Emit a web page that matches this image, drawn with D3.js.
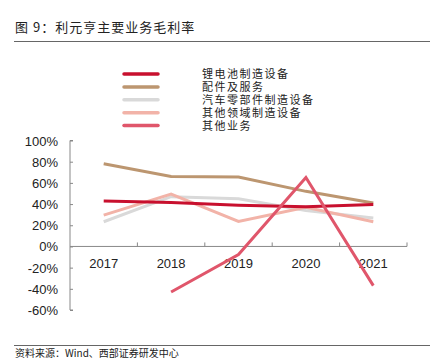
<!DOCTYPE html>
<html><head><meta charset="utf-8">
<script src="https://cdn.jsdelivr.net/npm/d3@7"></script>
<style>body{margin:0;background:#fff;}svg{display:block;}</style>
</head><body>
<script>
const years = ["2017","2018","2019","2020","2021"];
const seriesNames = ["锂电池制造设备","配件及服务","汽车零部件制造设备","其他领域制造设备","其他业务"];
const lithium = [42.8, 41.5, 38.8, 37.5, 39.7];
const parts = [78, 66, 65.5, 52, 41];
const autoParts = [23.3, 47, 45, 34, 26.8];
const otherField = [29.6, 49.4, 23.6, 36.9, 23.3];
const otherBiz = [null, -43, -7.6, 65, -37];
const yTicks = [100, 80, 60, 40, 20, 0, -20, -40, -60];
const colors = ["#C8102E", "#BC9670", "#D9D9D9", "#F2B3A8", "#E0566B"];

const W = 443, H = 360;
const svg = d3.select("body").append("svg").attr("width", W).attr("height", H);

svg.append("text").attr("x", 15).attr("y", 32).text("图 9：利元亨主要业务毛利率")
  .attr("font-family", "Noto Sans CJK SC").attr("font-size", 13).attr("fill", "#222").attr("letter-spacing", 1);
svg.append("line").attr("x1", 14).attr("x2", 430).attr("y1", 41.5).attr("y2", 41.5).attr("stroke", "#666").attr("stroke-width", 1.2);

const x = d3.scaleBand().domain(years).range([70, 407]);
const y = d3.scaleLinear().domain([-60, 100]).range([310, 140.5]);

// y axis
const yAxis = d3.axisRight(y).tickValues(yTicks).tickSize(3).tickFormat("");
const gy = svg.append("g").attr("transform", "translate(70,0)").call(yAxis);
gy.select(".domain").attr("stroke", "#888").attr("d", `M3,${y(100)}H0V${y(-60)}H3`);
gy.selectAll(".tick line").attr("stroke", "#888");
svg.append("g").selectAll("text").data(yTicks).join("text")
  .attr("x", 58).attr("y", d => y(d) + 5).attr("text-anchor", "end")
  .attr("font-family", "Liberation Sans, Arial").attr("font-size", 13).attr("fill", "#222")
  .text(d => d + "%");

// x axis at 0
const gx = svg.append("g").attr("transform", `translate(0,${y(0)})`);
gx.append("line").attr("x1", 70).attr("x2", 407).attr("stroke", "#888");
const bounds = years.map(d => x(d) + x.bandwidth());
gx.selectAll("line.tk").data(bounds).join("line").attr("class", "tk")
  .attr("x1", d => d).attr("x2", d => d).attr("y1", 0).attr("y2", -4).attr("stroke", "#888");
svg.append("g").selectAll("text").data(years).join("text")
  .attr("x", d => x(d) + x.bandwidth() / 2).attr("y", 268).attr("text-anchor", "middle")
  .attr("font-family", "Liberation Sans, Arial").attr("font-size", 13).attr("fill", "#222")
  .text(d => d);

const allSeries = [lithium, parts, autoParts, otherField, otherBiz];
const line = d3.line().defined(d => d[1] != null)
  .x(d => x(d[0]) + x.bandwidth() / 2).y(d => y(d[1]));
const order = [2, 1, 3, 0, 4];
order.forEach(i => {
  svg.append("path").datum(years.map((yr, j) => [yr, allSeries[i][j]]))
    .attr("d", line).attr("fill", "none").attr("stroke", colors[i]).attr("stroke-width", 3)
    .attr("stroke-linejoin", "miter");
});

// legend
const lg = svg.append("g");
seriesNames.forEach((n, i) => {
  const yy = 74 + i * 12.9;
  lg.append("line").attr("x1", 124).attr("x2", 158).attr("y1", yy).attr("y2", yy)
    .attr("stroke", colors[i]).attr("stroke-width", 3.5).attr("stroke-linecap", "round");
  lg.append("text").attr("x", 202).attr("y", yy + 4).text(n)
    .attr("font-family", "Noto Sans CJK SC").attr("font-size", 11).attr("fill", "#222").attr("letter-spacing", 1.5);
});

svg.append("line").attr("x1", 14).attr("x2", 430).attr("y1", 345.5).attr("y2", 345.5).attr("stroke", "#666").attr("stroke-width", 1);
svg.append("text").attr("x", 15).attr("y", 357).text("资料来源：Wind、西部证券研发中心")
  .attr("font-family", "Noto Sans CJK SC").attr("font-size", 10).attr("fill", "#222");
</script>
</body></html>
